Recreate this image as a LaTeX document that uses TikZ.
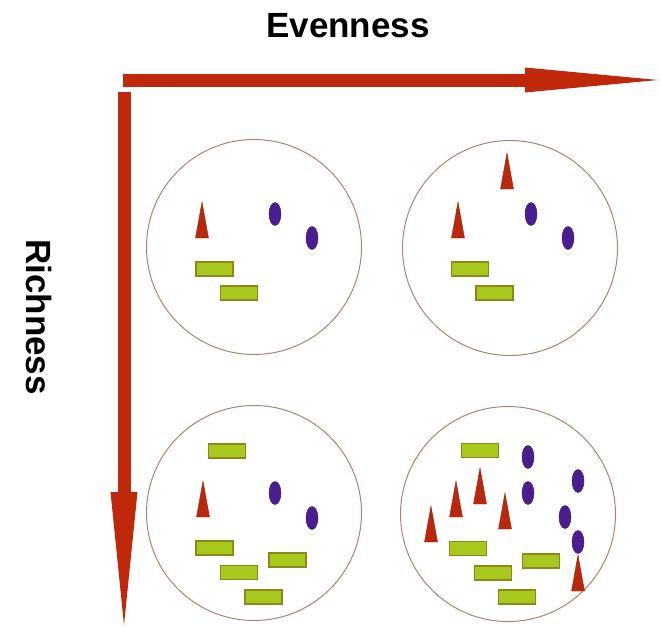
\documentclass[tikz,border=0pt]{standalone}
\usepackage{fontspec}
\setmainfont{Liberation Sans}
\definecolor{axisred}{HTML}{C0280C}
\definecolor{tricol}{HTML}{B8280C}
\definecolor{ovalcol}{HTML}{4A1E8E}
\definecolor{barfill}{HTML}{A8C81E}
\definecolor{baredge}{HTML}{8A8A14}
\definecolor{ringcol}{HTML}{B48070}
\tikzset{
  axis/.style={fill=axisred, draw=none},
  ring/.style={draw=ringcol, line width=1pt, circle, minimum size=215pt, inner sep=0pt},
  oval/.style={fill=ovalcol, draw=ovalcol!80!black, line width=0.4pt},
  bar/.style={fill=barfill, draw=baredge, line width=1.1pt},
  spike/.style={fill=tricol, draw=tricol!85!black, line width=0.4pt},
  axislabel/.style={font=\fontsize{35}{40}\selectfont\bfseries, inner sep=0pt}
}
% species glyphs: (x,y) of the centre
\newcommand\spOval[2]{\path[oval] (#1,#2) ellipse [x radius=6, y radius=11.5];}
\newcommand\spBar[2]{\path[bar] (#1-18.5,#2-7) rectangle (#1+18.5,#2+7);}
% spike: apex x, apex y
\newcommand\spSpike[2]{\path[spike] (#1,#2) -- (#1+6.5,#2+36) -- (#1-6.5,#2+36) -- cycle;}
\begin{document}
\begin{tikzpicture}[x=1pt,y=-1pt]
\useasboundingbox (0,0) rectangle (661,627);
\fill[white] (0,0) rectangle (661,627);

% axes
\path[axis] (123,73.5) rectangle (526,86.5);
\path[axis] (525,67.5) -- (658,80) -- (525,92.5) -- cycle;
\path[axis] (117.5,92) rectangle (130.5,493);
\path[axis] (110.5,492) -- (124,625) -- (137.5,492) -- cycle;

\node[axislabel, anchor=base] (even) at (348,37) {Evenness};
\node[axislabel, rotate=-90] (rich) at (39,317) {Richness};

% samples
\node[ring] (s11) at (254,247) {};
\node[ring] (s12) at (510,248) {};
\node[ring] (s21) at (254,513) {};
\node[ring] (s22) at (508,514) {};

% low richness, low evenness
\spSpike{202}{202}
\spOval{275}{214}
\spOval{312}{238}
\spBar{214.5}{269}
\spBar{239}{293}

% low richness, high evenness
\spSpike{507}{153}
\spSpike{458}{202}
\spOval{531}{214}
\spOval{568}{238}
\spBar{470}{269}
\spBar{494.5}{293}

% high richness, low evenness
\spBar{227}{451}
\spSpike{203}{481}
\spOval{275}{493}
\spOval{312}{518}
\spBar{214.5}{548}
\spBar{287.5}{560}
\spBar{239}{572.5}
\spBar{263.5}{597}

% high richness, high evenness
\spBar{480}{450.5}
\spOval{528}{457}
\spOval{528}{493}
\spOval{578}{481}
\spOval{565}{517}
\spOval{578}{542}
\spSpike{480}{468}
\spSpike{456}{481}
\spSpike{505}{493}
\spSpike{431}{506}
\spSpike{578}{555}
\spBar{468}{548.5}
\spBar{541}{561}
\spBar{493}{573}
\spBar{517}{597}
\end{tikzpicture}
\end{document}
